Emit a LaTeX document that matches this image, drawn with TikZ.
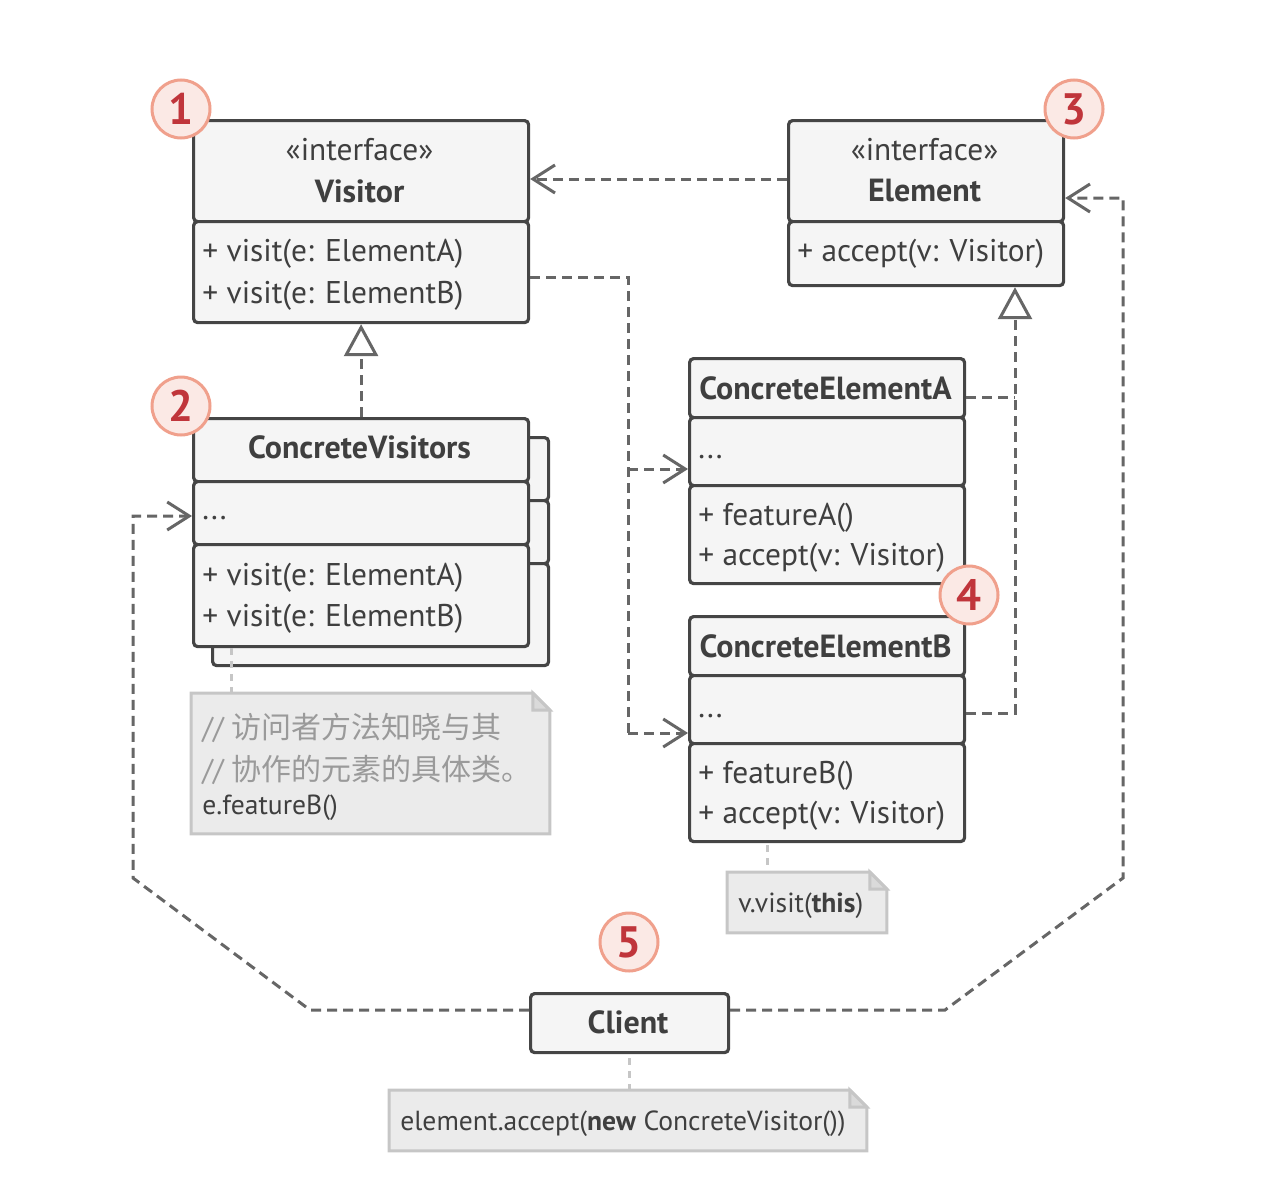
\documentclass[tikz,border=0pt]{standalone}
\usepackage{fontspec}
\setmainfont{PT Sans}
\newfontfamily\cjk{Noto Sans CJK SC}
\usetikzlibrary{arrows.meta}
\definecolor{boxline}{HTML}{454545}
\definecolor{boxfill}{HTML}{F5F5F5}
\definecolor{txt}{HTML}{3F3F3F}
\definecolor{conn}{HTML}{666666}
\definecolor{notefill}{HTML}{EBEBEB}
\definecolor{noteline}{HTML}{C6C6C6}
\definecolor{notefoldfill}{HTML}{DADADA}
\definecolor{comment}{HTML}{9A9A9A}
\definecolor{badgefill}{HTML}{FBE9E5}
\definecolor{badgeline}{HTML}{F0A08C}
\definecolor{badgetext}{HTML}{C0353B}
\newcommand\notedraw[1]{%
  \filldraw[notestyle] (#1.north west) -- ([xshift=-8.5pt]#1.north east)
    -- ([yshift=-8.5pt]#1.north east) -- (#1.south east) -- (#1.south west) -- cycle;
  \filldraw[notestyle, fill=notefoldfill] ([xshift=-8.5pt]#1.north east)
    -- ([xshift=-8.5pt,yshift=-8.5pt]#1.north east) -- ([yshift=-8.5pt]#1.north east) -- cycle;}
\begin{document}
\begin{tikzpicture}[x=0.5pt,y=-0.5pt,
  font=\fontsize{15.7}{18}\selectfont,
  comp/.style={draw=boxline, fill=boxfill, line width=1.6pt, rounded corners=2pt,
    inner sep=0pt, anchor=north west},
  lbl/.style={text=txt, inner sep=0pt, anchor=west, yshift=-1.5pt},
  notetxt/.style={lbl, font=\fontsize{13.8}{16}\selectfont},
  hdr/.style={text=txt, inner sep=0pt},
  bhdr/.style={text=txt, inner sep=0pt, font=\fontsize{16}{18}\selectfont\bfseries},
  dline/.style={draw=conn, line width=1.5pt, dash pattern=on 5pt off 3pt},
  dep/.style={dline, -{Straight Barb[length=11pt,width=14pt]}},
  real/.style={dline, -{Triangle[length=16pt,width=17pt,fill=white]}},
  nline/.style={draw=noteline, line width=1.5pt, dash pattern=on 3.5pt off 3pt},
  notebox/.style={inner sep=0pt, anchor=north west, draw=none},
  notestyle/.style={draw=noteline, fill=notefill, line width=1.5pt},
  badge/.style={circle, draw=badgeline, fill=badgefill, line width=1.5pt,
    minimum size=29pt, inner sep=0pt, text=badgetext,
    font=\fontsize{22}{22}\selectfont\bfseries},
]
\useasboundingbox (0,0) rectangle (1280,1194);

% ---------- coordinates for connectors ----------
\coordinate (evy) at (700,179);
\coordinate (busTop) at (628,277);
\coordinate (busA) at (628,469);
\coordinate (busB) at (628,733);
\coordinate (rbus) at (1015,397);
\coordinate (rbusB) at (1015,713);
\coordinate (cL1) at (310,1010);
\coordinate (cL2) at (133,878);
\coordinate (cL3) at (133,516);
\coordinate (cR1) at (945,1010);
\coordinate (cR2) at (1123,878);
\coordinate (cR3) at (1123,198);
\coordinate (n1c) at (231,648);
\coordinate (n2c) at (767,845);

% ---------- Visitor ----------
\node[comp, minimum width=167.5pt, minimum height=50.5pt] (vh) at (192,119) {};
\node[comp, minimum width=167.5pt, minimum height=50.5pt] (vb) at (192,220) {};
\node[hdr] (vst) at (359.5,150) {«interface»};
\node[bhdr] (vnm) at (359.5,191) {Visitor};
\node[lbl] (vm1) at (202,251) {+ visit(e: ElementA)};
\node[lbl] (vm2) at (202,293) {+ visit(e: ElementB)};

% ---------- Element ----------
\node[comp, minimum width=137.5pt, minimum height=50.5pt] (eh) at (787,119) {};
\node[comp, minimum width=137.5pt, minimum height=32pt] (eb) at (787,220) {};
\node[hdr] (est) at (924.5,150) {«interface»};
\node[bhdr] (enm) at (924.5,191) {Element};
\node[lbl] (em1) at (797,251) {+ accept(v: Visitor)};

% ---------- ConcreteVisitors (stack) ----------
\node[comp, minimum width=168pt, minimum height=31.5pt] (cvh2) at (211,436) {};
\node[comp, minimum width=168pt, minimum height=31.5pt] (cvm2) at (211,499) {};
\node[comp, minimum width=168pt, minimum height=51pt] (cvb2) at (211,562) {};
\node[comp, minimum width=167.5pt, minimum height=31.5pt] (cvh) at (192,417) {};
\node[comp, minimum width=167.5pt, minimum height=31.5pt] (cvm) at (192,480) {};
\node[comp, minimum width=167.5pt, minimum height=51pt] (cvb) at (192,543) {};
\node[bhdr] (cvnm) at (359.5,447) {ConcreteVisitors};
\node[lbl, anchor=base west] (cvd) at (202,516) {...};
\node[lbl] (cvm1) at (202,575) {+ visit(e: ElementA)};
\node[lbl] (cvm2t) at (202,616) {+ visit(e: ElementB)};

% ---------- ConcreteElementA ----------
\node[comp, minimum width=137.5pt, minimum height=29.5pt] (cah) at (688,357) {};
\node[comp, minimum width=137.5pt, minimum height=34pt] (cam) at (688,416) {};
\node[comp, minimum width=137.5pt, minimum height=49pt] (cab) at (688,484) {};
\node[bhdr] (canm) at (825.5,388) {ConcreteElementA};
\node[lbl, anchor=base west] (cad) at (698,455) {...};
\node[lbl] (cam1) at (698,515) {+ featureA()};
\node[lbl] (cam2) at (698,555) {+ accept(v: Visitor)};

% ---------- ConcreteElementB ----------
\node[comp, minimum width=137.5pt, minimum height=29.5pt] (cbh) at (688,615) {};
\node[comp, minimum width=137.5pt, minimum height=34pt] (cbm) at (688,674) {};
\node[comp, minimum width=137.5pt, minimum height=49pt] (cbb) at (688,742) {};
\node[bhdr] (cbnm) at (825.5,646) {ConcreteElementB};
\node[lbl, anchor=base west] (cbd) at (698,714) {...};
\node[lbl] (cbm1) at (698,773) {+ featureB()};
\node[lbl] (cbm2) at (698,813) {+ accept(v: Visitor)};

% ---------- Client ----------
\node[comp, minimum width=99pt, minimum height=29.5pt] (cl) at (529,992) {};
\node[bhdr] (clnm) at (628,1022) {Client};

% ---------- connectors ----------
\draw[dep] (eh.west |- evy) -- (vh.east |- evy);
\draw[dline] (vb.east |- busTop) -- (busTop) -- (busB);
\draw[dep] (busA) -- (busA -| cam.west);
\draw[dep] (busB) -- (busB -| cbm.west);
\draw[real] (cvh.north) -- (vb.south);
\draw[dline] (cah.east |- rbus) -- (rbus);
\draw[real] (cbm.east |- rbusB) -- (rbusB) -- (rbusB |- eb.south);
\draw[dep] (cl.west |- cL1) -- (cL1) -- (cL2) -- (cL3) -- (cL3 -| cvm.west);
\draw[dep] (cl.east |- cR1) -- (cR1) -- (cR2) -- (cR3) -- (cR3 -| eh.east);

% ---------- notes ----------
\node[notebox, minimum width=179pt, minimum height=70pt] (n1) at (191,693) {};
\notedraw{n1}
\node[lbl, text=comment, font=\fontsize{15}{18}\selectfont] (n1a) at (202,725) {// {\cjk 访问者方法知晓与其}};
\node[lbl, text=comment, font=\fontsize{15}{18}\selectfont] (n1b) at (202,767) {// {\cjk 协作的元素的具体类。}};
\node[notetxt] (n1c2) at (202,805) {e.featureB()};
\draw[nline] (n1c) -- (n1c |- n1.north);

\node[notebox, minimum width=79.5pt, minimum height=30pt] (n2) at (727,872) {};
\notedraw{n2}
\node[notetxt] (n2t) at (738,903) {v.visit(\textbf{this})};
\draw[nline] (n2c) -- (n2c |- n2.north);

\node[notebox, minimum width=238.5pt, minimum height=30pt] (n3) at (389,1090) {};
\notedraw{n3}
\node[notetxt] (n3t) at (400,1121) {element.accept(\textbf{new} ConcreteVisitor())};
\draw[nline] ([yshift=-2pt]cl.south) -- (n3.north -| cl.south);

% ---------- badges ----------
\node[badge] (b1) at (181,109) {1};
\node[badge] (b2) at (181,406) {2};
\node[badge] (b3) at (1074,109) {3};
\node[badge] (b4) at (969,595) {4};
\node[badge] (b5) at (629,942) {5};
\end{tikzpicture}
\end{document}
